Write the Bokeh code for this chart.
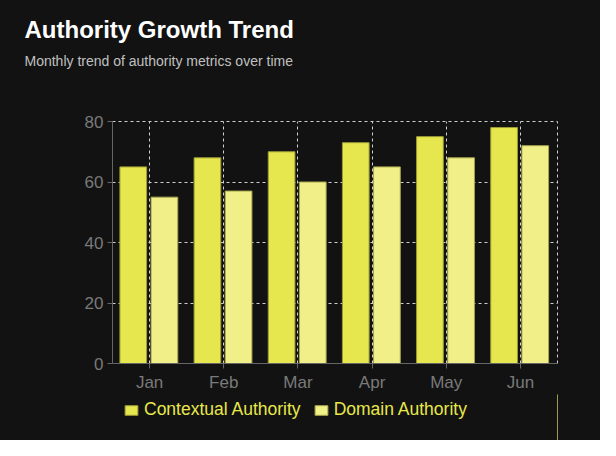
from bokeh.plotting import figure
from bokeh.layouts import column
from bokeh.models import (ColumnDataSource, FactorRange, Range1d, Legend, LegendItem, FixedTicker,
                          Title, Plot, VBar)
from bokeh.transform import dodge
from bokeh.embed import file_html
from bokeh.resources import INLINE

months = ["Jan", "Feb", "Mar", "Apr", "May", "Jun"]
contextual = [65, 68, 70, 73, 75, 78]
domain = [55, 57, 60, 65, 68, 72]
y_ticks = [0, 20, 40, 60, 80]
series_names = ["Contextual Authority", "Domain Authority"]

title_text = "Authority Growth Trend"
subtitle_text = "Monthly trend of authority metrics over time"

BG = "#121212"
C1 = "#e6e64e"
C2 = "#f1f088"
E1 = "#9c9c38"
E2 = "#a8a650"
GRID = "#cfcfcf"
AXIS = "#666666"
TICK_TXT = "#7a7a7a"
FONT = "Liberation Sans"

src = ColumnDataSource(dict(month=months, contextual=contextual, domain=domain))

# ---- main chart ----
p = figure(width=600, height=394, output_backend="svg", toolbar_location=None,
           x_range=FactorRange(*months, range_padding=0), y_range=Range1d(0, 80),
           min_border_left=112, min_border_right=43, min_border_top=121, min_border_bottom=30,
           background_fill_color=BG, border_fill_color=BG,
           styles={"background-color": BG})

p.vbar(x=dodge("month", -0.22, range=p.x_range), top="contextual", width=0.36, source=src,
       fill_color=C1, line_color=E1, line_width=1)
p.vbar(x=dodge("month", 0.2, range=p.x_range), top="domain", width=0.36, source=src,
       fill_color=C2, line_color=E2, line_width=1)

for ax in (p.xaxis[0], p.yaxis[0]):
    ax.axis_line_color = AXIS
    ax.major_tick_line_color = AXIS
    ax.minor_tick_line_color = None
    ax.major_tick_out = 5
    ax.major_tick_in = 0
    ax.major_label_text_color = TICK_TXT
    ax.major_label_text_font = FONT
    ax.major_label_text_font_size = "17px"
p.yaxis.ticker = FixedTicker(ticks=y_ticks)
p.yaxis.major_label_standoff = 4
p.xaxis.major_label_standoff = 4

for g in (p.xgrid[0], p.ygrid[0]):
    g.grid_line_color = GRID
    g.grid_line_dash = "3 3"
    g.grid_line_width = 1
p.outline_line_color = GRID
p.outline_line_dash = "3 3"
p.outline_line_width = 1

# titles stacked above the frame (first added = nearest the frame)
p.add_layout(Title(text=" ", text_font=FONT, text_font_size="1px", text_color=BG,
                   align="left", standoff=48), "above")
p.add_layout(Title(text=subtitle_text, text_font=FONT, text_font_size="14px",
                   text_font_style="normal", text_color="#c0c0c0",
                   align="left", offset=-88, standoff=4), "above")
p.add_layout(Title(text=title_text, text_font=FONT, text_font_size="24px",
                   text_font_style="bold", text_color="#ffffff",
                   align="left", offset=-88, standoff=12), "above")

# ---- legend strip (bare Plot: no axes, grids or outline; transparent fills) ----
leg = Plot(width=600, height=46, output_backend="svg", toolbar_location=None,
           x_range=Range1d(0, 1), y_range=Range1d(0, 1),
           min_border_left=112, min_border_right=43, min_border_top=0, min_border_bottom=0,
           background_fill_color=BG, border_fill_color=BG,
           background_fill_alpha=0, border_fill_alpha=0,
           outline_line_color=None, styles={"background-color": BG})
# swatch sources for the legend keys (placed outside the visible range)
key_src = ColumnDataSource(dict(x=[5], top=[1]))
k1 = leg.add_glyph(key_src, VBar(x="x", top="top", width=0.1, fill_color=C1, line_color=E1))
k2 = leg.add_glyph(key_src, VBar(x="x", top="top", width=0.1, fill_color=C2, line_color=E2))
legend = Legend(items=[LegendItem(label=series_names[0], renderers=[k1]),
                       LegendItem(label=series_names[1], renderers=[k2])],
                location=(11, 20), orientation="horizontal",
                background_fill_alpha=0, border_line_color=None,
                label_text_color="#e8e84a", label_text_font=FONT, label_text_font_size="17.5px",
                glyph_width=16, glyph_height=12, label_standoff=5, spacing=12,
                label_height=18, padding=0, margin=0)
leg.add_layout(legend, "center")

layout = column(p, leg, spacing=0, styles={"background-color": BG})
open("out.html", "w").write(file_html(layout, INLINE))
